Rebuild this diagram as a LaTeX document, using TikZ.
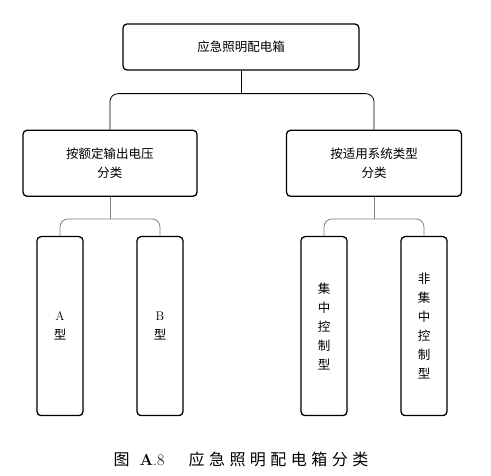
\documentclass[tikz,border=0pt]{standalone}
\usepackage{fontspec}
\usepackage{tikz}
\usetikzlibrary{positioning}
\usetikzlibrary{calc}
\newfontfamily\cjk{Noto Sans CJK SC}
\newfontfamily\capfont[LetterSpace=28]{Noto Sans CJK SC}

\tikzset{
  box/.style={draw, line width=1.3pt, rounded corners=4pt, align=center,
    font=\cjk\fontsize{12.5}{19}\selectfont, inner sep=0pt},
  tall/.style={box, minimum width=46pt, minimum height=179pt},
  wire/.style={line width=0.8pt, rounded corners=8pt},
}

\begin{document}
\begin{tikzpicture}[x=1pt, y=1pt]
    \useasboundingbox (0,0) rectangle (491,-476);

    \node (top) [box, minimum width=236pt, minimum height=46pt] at (241,-47) {应急照明配电箱};

    \node (lmid) [box, minimum width=174pt, minimum height=66pt, below=59pt of top, xshift=-131pt]
      {按额定输出电压\\分类};
    \node (rmid) [box, minimum width=175pt, minimum height=66pt, below=59pt of top, xshift=133pt]
      {按适用系统类型\\分类};

    \node (ta) [tall, below=39pt of lmid, xshift=-50pt] {\rmfamily A\\型};
    \node (tb) [tall, below=39pt of lmid, xshift=50pt] {\rmfamily B\\型};
    \node (tc) [tall, below=39pt of rmid, xshift=-50pt] {集\\中\\控\\制\\型};
    \node (td) [tall, below=39pt of rmid, xshift=50pt] {非\\集\\中\\控\\制\\型};

    \coordinate (bus) at ($(top.south)+(0,-23)$);
    \coordinate (lbus) at ($(lmid.south)+(0,-22)$);
    \coordinate (rbus) at ($(rmid.south)+(0,-22)$);

    % upper level
    \draw[wire] (top.south) -- (bus);
    \draw[wire] (lmid.north) |- (bus) -| (rmid.north);
    % lower level, in gray
    \draw[wire, gray] (lmid.south) -- (lbus);
    \draw[wire, gray] (ta.north) |- (lbus) -| (tb.north);
    \draw[wire, gray] (rmid.south) -- (rbus);
    \draw[wire, gray] (tc.north) |- (rbus) -| (td.north);

    \node (cap) at (241,-459) {\fontsize{16}{19}\selectfont
      {\cjk 图}\hspace{10pt}\textbf{A}.8\hspace{24pt}{\capfont 应急照明配电箱分类}};
\end{tikzpicture}
\end{document}
